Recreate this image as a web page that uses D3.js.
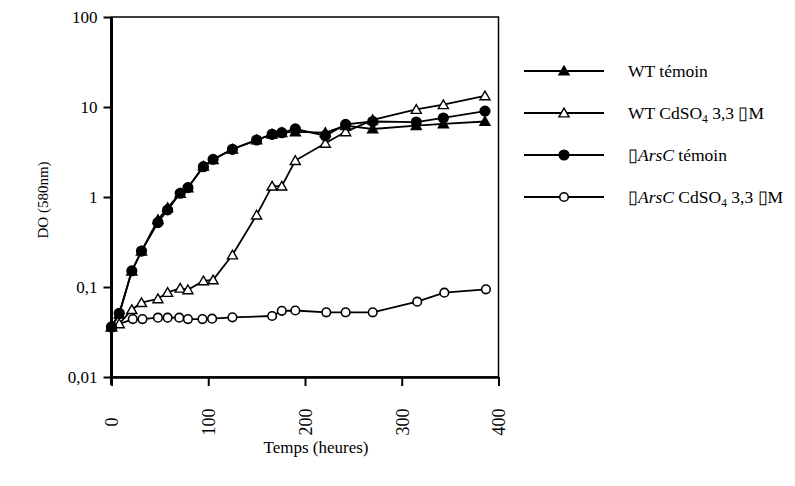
<!DOCTYPE html>
<html><head><meta charset="utf-8">
<script src="https://cdn.jsdelivr.net/npm/d3@7"></script>
<style>body{margin:0;background:#fff}svg{display:block}</style>
</head><body>
<svg id="c" width="795" height="486"></svg>
<script>
const times = [0, 8, 21, 31, 48, 58, 71, 79, 95, 105, 125, 150, 166, 176, 190, 221, 242, 270, 315, 343, 386];
const wtTemoin   = [0.036, 0.05, 0.15, 0.25, 0.56, 0.76, 1.1, 1.26, 2.2, 2.6, 3.4, 4.3, 5.0, 5.2, 5.3, 5.2, 6.2, 5.7, 6.2, 6.5, 6.9];
const wtCd       = [0.036, 0.039, 0.056, 0.067, 0.074, 0.087, 0.097, 0.093, 0.117, 0.12, 0.227, 0.63, 1.32, 1.32, 2.54, 3.95, 5.3, 7.2, 9.4, 10.6, 13.3];
const arsTemoin  = [0.036, 0.051, 0.151, 0.251, 0.52, 0.72, 1.1, 1.27, 2.17, 2.62, 3.39, 4.3, 4.97, 5.18, 5.7, 4.8, 6.4, 6.9, 6.8, 7.55, 9.0];
const timesArsCd = [0, 22, 32, 48, 58, 70, 79, 94, 104, 125, 166, 176, 190, 222, 242, 270, 316, 344, 387];
const arsCd      = [0.036, 0.044, 0.044, 0.0456, 0.0456, 0.0456, 0.044, 0.044, 0.0445, 0.046, 0.0476, 0.0544, 0.0548, 0.0523, 0.0523, 0.0523, 0.0687, 0.0865, 0.0943];
const yTicks = [0.01, 0.1, 1, 10, 100];
const xTicks = [0, 100, 200, 300, 400];
const legendLabels = ["WT témoin", "WT CdSO4 3,3 ▯M", "▯ArsC témoin", "▯ArsC CdSO4 3,3 ▯M"];

const svg = d3.select("#c");
const FONT = "'Liberation Serif', 'Times New Roman', serif";
const x = d3.scaleLinear().domain([0, 400]).range([111.5, 498.5]);
const y = d3.scaleLog().domain([0.01, 100]).range([377, 17]);

// frame (thin top/right)
svg.append("rect").attr("x", 111.5).attr("y", 17).attr("width", 387).attr("height", 360)
  .attr("fill", "none").attr("stroke", "#000").attr("stroke-width", 1.5);

// y axis
const yAxis = svg.append("g").attr("transform", "translate(111.5,0)")
  .call(d3.axisLeft(y).tickValues(yTicks).tickSize(8).tickSizeOuter(0)
    .tickFormat(v => String(v).replace(".", ",")));
yAxis.select(".domain").attr("stroke-width", 3).attr("d", "M0,17V385");
yAxis.selectAll(".tick line").attr("stroke-width", 2);
yAxis.selectAll("text").attr("font-family", FONT).attr("font-size", 17).attr("fill", "#000").attr("x", -14);

// x axis
const xAxis = svg.append("g").attr("transform", "translate(0,377)")
  .call(d3.axisBottom(x).tickValues(xTicks).tickSize(9).tickSizeOuter(0));
xAxis.select(".domain").attr("stroke-width", 2.5);
xAxis.selectAll(".tick line").attr("stroke-width", 2);
xAxis.selectAll("text").attr("font-family", FONT).attr("font-size", 18).attr("fill", "#000")
  .attr("transform", "rotate(-90)").attr("x", -45).attr("y", 0).attr("dy", "0.35em")
  .attr("text-anchor", "middle");

// axis titles
svg.append("text").attr("transform", "translate(48,200) rotate(-90)").attr("text-anchor", "middle")
  .attr("font-family", FONT).attr("font-size", 15).text("DO (580nm)");
svg.append("text").attr("x", 316).attr("y", 453).attr("text-anchor", "middle")
  .attr("font-family", FONT).attr("font-size", 17).text("Temps (heures)");

const line = d3.line().x(d => x(d[0])).y(d => y(d[1]));
const series = [
  {t: timesArsCd, v: arsCd, type: "circle", fill: "#fff"},
  {t: times, v: wtCd, type: "triangle", fill: "#fff"},
  {t: times, v: arsTemoin, type: "circle", fill: "#000"},
  {t: times, v: wtTemoin, type: "triangle", fill: "#000"}
];
const tri = d3.symbol().type(d3.symbolTriangle).size(44);
function marker(g, type, fill, cx, cy) {
  if (type === "circle") {
    g.append("circle").attr("cx", cx).attr("cy", cy).attr("r", fill === "#000" ? 4.8 : 4.3)
      .attr("fill", fill).attr("stroke", "#000").attr("stroke-width", 1.6);
  } else {
    g.append("path").attr("d", tri()).attr("transform", `translate(${cx},${cy + 1})`)
      .attr("fill", fill).attr("stroke", "#000").attr("stroke-width", 1.4);
  }
}
series.forEach(s => {
  const pts = s.t.map((t, i) => [t, s.v[i]]);
  svg.append("path").datum(pts).attr("d", line).attr("fill", "none").attr("stroke", "#000").attr("stroke-width", 1.8);
  const g = svg.append("g");
  pts.forEach(p => marker(g, s.type, s.fill, x(p[0]), y(p[1])));
});

// legend
const legY = [71, 113, 155, 197];
const legTypes = [["triangle", "#000"], ["triangle", "#fff"], ["circle", "#000"], ["circle", "#fff"]];
legendLabels.forEach((lab, i) => {
  const g = svg.append("g");
  g.append("line").attr("x1", 524).attr("x2", 604).attr("y1", legY[i]).attr("y2", legY[i])
    .attr("stroke", "#000").attr("stroke-width", 1.8);
  marker(g, legTypes[i][0], legTypes[i][1], 564, legY[i]);
  const t = g.append("text").attr("x", 628).attr("y", legY[i] + 6).attr("font-family", FONT).attr("font-size", 17.5);
  const parts = lab.split(/(ArsC|CdSO4)/).filter(p => p.length);
  let pendingDy = 0;
  parts.forEach(p => {
    if (p === "ArsC") {
      t.append("tspan").attr("font-style", "italic").attr("dy", pendingDy).text("ArsC");
      pendingDy = 0;
    } else if (p === "CdSO4") {
      t.append("tspan").attr("dy", pendingDy).text("CdSO");
      t.append("tspan").attr("font-size", 11.5).attr("dy", 4).text("4");
      pendingDy = -4;
    } else {
      t.append("tspan").attr("dy", pendingDy).text(p);
      pendingDy = 0;
    }
  });
});
</script>
</body></html>
